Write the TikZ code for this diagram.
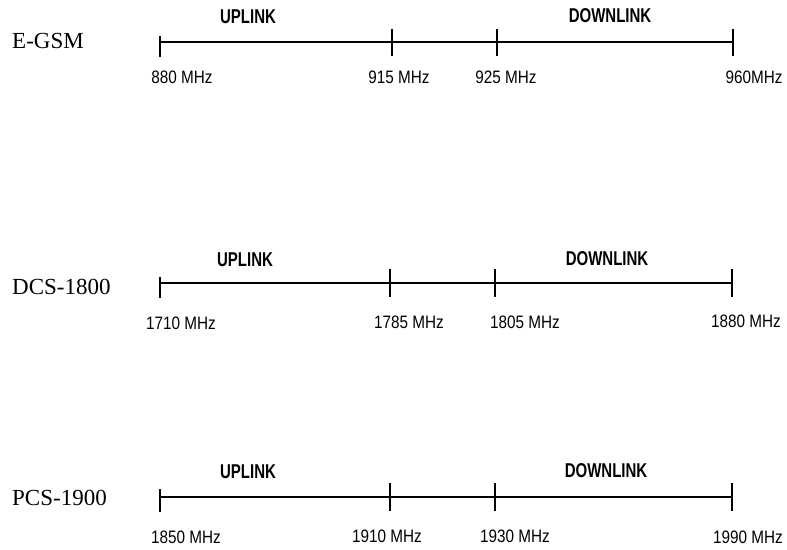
\documentclass[tikz,border=0pt]{standalone}
\usepackage{fontspec}
\setmainfont{Liberation Serif}
\newfontfamily\freqfont{Liberation Sans}[FakeStretch=0.85]
\newfontfamily\headfont{Liberation Sans}[FakeStretch=0.75]
\usetikzlibrary{positioning}

\tikzset{
  band/.style={font=\fontsize{23}{25}\selectfont, anchor=west, inner sep=0pt},
  freq/.style={font=\freqfont\fontsize{18}{20}\selectfont, inner sep=0pt},
  linkname/.style={font=\headfont\bfseries\fontsize{20}{22}\selectfont, inner sep=0pt},
  bandline/.style={line width=1.8pt},
  tickline/.style={line width=1.3pt}
}

\begin{document}
\begin{tikzpicture}[x=1pt,y=-1pt]
\useasboundingbox (0,0) rectangle (787,549);
% E-GSM
\node[band] (gsm) at (12,41) {E-GSM};
\coordinate (g0) at (160,42); \coordinate (g1) at (392,42);
\coordinate (g2) at (497,42); \coordinate (g3) at (733,42);
\draw[bandline] (g0) -- (g3);
\draw[tickline] ([yshift=6pt]g0) -- ([yshift=-15pt]g0);
\foreach \t in {g1,g2,g3} \draw[tickline] ([yshift=13pt]\t) -- ([yshift=-14pt]\t);
\node[linkname] (gup) at (248,17) {UPLINK};
\node[linkname] (gdown) at (610,16) {DOWNLINK};
\node[freq] (gf0) at (182,77) {880 MHz};
\node[freq] (gf1) at (399,77) {915 MHz};
\node[freq] (gf2) at (506,77) {925 MHz};
\node[freq] (gf3) at (754,77) {960MHz};
% DCS-1800
\node[band] (dcs) at (12,287) {DCS-1800};
\coordinate (d0) at (160,283); \coordinate (d1) at (390,283);
\coordinate (d2) at (495,283); \coordinate (d3) at (732,283);
\draw[bandline] (d0) -- (d3);
\draw[tickline] ([yshift=6pt]d0) -- ([yshift=-15pt]d0);
\foreach \t in {d1,d2,d3} \draw[tickline] ([yshift=14pt]\t) -- ([yshift=-14pt]\t);
\node[linkname] (dup) at (245,260) {UPLINK};
\node[linkname] (ddown) at (607,259) {DOWNLINK};
\node[freq] (df0) at (181,323) {1710 MHz};
\node[freq] (df1) at (409,322) {1785 MHz};
\node[freq] (df2) at (525,322) {1805 MHz};
\node[freq] (df3) at (746,321) {1880 MHz};
% PCS-1900
\node[band] (pcs) at (12,498) {PCS-1900};
\coordinate (p0) at (160,497); \coordinate (p1) at (390,497);
\coordinate (p2) at (495,497); \coordinate (p3) at (732,497);
\draw[bandline] (p0) -- (p3);
\draw[tickline] ([yshift=8pt]p0) -- ([yshift=-15pt]p0);
\foreach \t in {p1,p2,p3} \draw[tickline] ([yshift=14pt]\t) -- ([yshift=-14pt]\t);
\node[linkname] (pup) at (248,472) {UPLINK};
\node[linkname] (pdown) at (606,471) {DOWNLINK};
\node[freq] (pf0) at (186,537) {1850 MHz};
\node[freq] (pf1) at (387,536) {1910 MHz};
\node[freq] (pf2) at (515,536) {1930 MHz};
\node[freq] (pf3) at (748,537) {1990 MHz};
\end{tikzpicture}
\end{document}
